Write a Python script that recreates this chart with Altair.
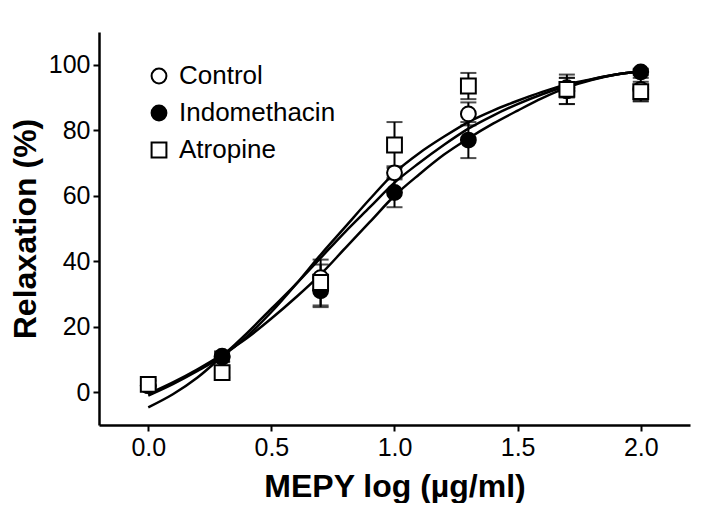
import altair as alt
import pandas as pd

groups = ["Control", "Indomethacin", "Atropine"]
dose = [0.0, 0.3, 0.7, 1.0, 1.3, 1.7, 2.0]

ctrl_mean = [2.0, 11.0, 35.0, 67.0, 85.0, 93.0, 92.5]
ctrl_err = [1.5, 1.5, 4.0, 2.0, 3.5, 3.0, 3.5]
indo_mean = [2.0, 10.7, 31.0, 61.0, 77.0, 92.0, 97.8]
indo_err = [1.5, 1.5, 5.0, 4.5, 5.5, 4.0, 1.0]
atro_mean = [2.4, 6.0, 33.5, 75.5, 93.5, 92.5, 91.8]
atro_err = [1.5, 1.5, 7.0, 7.0, 4.0, 4.5, 3.0]

curve_x = [0.0, 0.1, 0.2, 0.3, 0.4, 0.5, 0.6, 0.7, 0.8, 0.9, 1.0,
           1.1, 1.2, 1.3, 1.4, 1.5, 1.6, 1.7, 1.8, 1.9, 2.0]
ctrl_curve = [-1.0, 2.5, 6.5, 11.0, 17.0, 24.5, 33.0, 42.0, 50.5, 59.0, 67.0,
              73.0, 78.0, 82.5, 86.0, 89.0, 91.7, 94.0, 95.6, 97.0, 98.0]
indo_curve = [-0.5, 3.0, 7.0, 11.5, 16.5, 22.5, 29.0, 36.0, 44.0, 52.0, 60.0,
              66.5, 72.5, 77.5, 82.0, 86.0, 89.8, 93.0, 95.3, 97.0, 98.0]
atro_curve = [-4.6, -0.6, 4.5, 11.0, 18.0, 25.5, 33.0, 41.0, 49.0, 56.5, 64.0,
              70.0, 75.5, 80.5, 84.5, 88.0, 91.0, 93.5, 95.5, 97.0, 98.0]

means = {"Control": ctrl_mean, "Indomethacin": indo_mean, "Atropine": atro_mean}
errs = {"Control": ctrl_err, "Indomethacin": indo_err, "Atropine": atro_err}
curves = {"Control": ctrl_curve, "Indomethacin": indo_curve, "Atropine": atro_curve}

rows = []
for g in groups:
    for x, m, e in zip(dose, means[g], errs[g]):
        rows.append({"group": g, "x": x, "y": m, "lo": m - e, "hi": m + e})
pts = pd.DataFrame(rows)

crow = []
for g in groups:
    for x, y in zip(curve_x, curves[g]):
        crow.append({"group": g, "x": x, "y": y})
cdf = pd.DataFrame(crow)

FONT = "Liberation Sans"

xscale = alt.Scale(domain=[-0.2, 2.2], nice=False, zero=False)
yscale = alt.Scale(domain=[-10, 110], nice=False, zero=False)

xaxis = alt.Axis(title="MEPY log (µg/ml)", values=[0, 0.5, 1.0, 1.5, 2.0], format=".1f",
                 grid=False, tickSize=6, labelPadding=4, titlePadding=11)
yaxis = alt.Axis(title="Relaxation (%)", values=[0, 20, 40, 60, 80, 100],
                 grid=False, tickSize=6, labelPadding=3, titlePadding=6)

X = alt.X("x:Q", scale=xscale, axis=xaxis)
Y = alt.Y("y:Q", scale=yscale, axis=yaxis)

shape_scale = alt.Scale(domain=groups, range=["circle", "circle", "square"])
fill_scale = alt.Scale(domain=groups, range=["white", "black", "white"])
stroke_scale = alt.Scale(domain=groups, range=["black", "black", "black"])
leg = alt.Legend(title=None, orient="none", legendX=47, legendY=31)

lines = alt.Chart(cdf).mark_line(color="black", strokeWidth=2.5, interpolate="monotone").encode(
    x=X, y=Y, detail="group:N"
)

bars = alt.Chart(pts).mark_rule(color="black", strokeWidth=2).encode(
    x=X, y="lo:Q", y2="hi:Q"
)
caps_lo = alt.Chart(pts).mark_tick(color="black", thickness=2, size=16, orient="horizontal").encode(
    x=X, y=alt.Y("lo:Q", scale=yscale)
)
caps_hi = alt.Chart(pts).mark_tick(color="black", thickness=2, size=16, orient="horizontal").encode(
    x=X, y=alt.Y("hi:Q", scale=yscale)
)

points = alt.Chart(pts).mark_point(strokeWidth=2, opacity=1, size=220).encode(
    x=X, y=Y,
    shape=alt.Shape("group:N", scale=shape_scale, legend=leg),
    fill=alt.Fill("group:N", scale=fill_scale, legend=leg),
    stroke=alt.Stroke("group:N", scale=stroke_scale, legend=leg),
)

chart = alt.layer(bars, caps_lo, caps_hi, lines, points).properties(
    width=591, height=393,
    autosize="none",
    padding={"left": 91, "top": 24, "right": 22, "bottom": 78},
).configure_view(stroke=None).configure_axis(
    domainColor="black", domainWidth=2.5, tickColor="black", tickWidth=2,
    labelFont=FONT, labelFontSize=25, labelColor="black",
    titleFont=FONT, titleFontSize=32, titleFontWeight="bold", titleColor="black",
).configure_legend(
    labelFont=FONT, labelFontSize=26, labelColor="black",
    symbolSize=220, symbolStrokeColor="black", symbolStrokeWidth=2,
    rowPadding=11, labelOffset=7, padding=0,
)

chart.save("out.html", embed_options={"renderer": "svg", "actions": False})
